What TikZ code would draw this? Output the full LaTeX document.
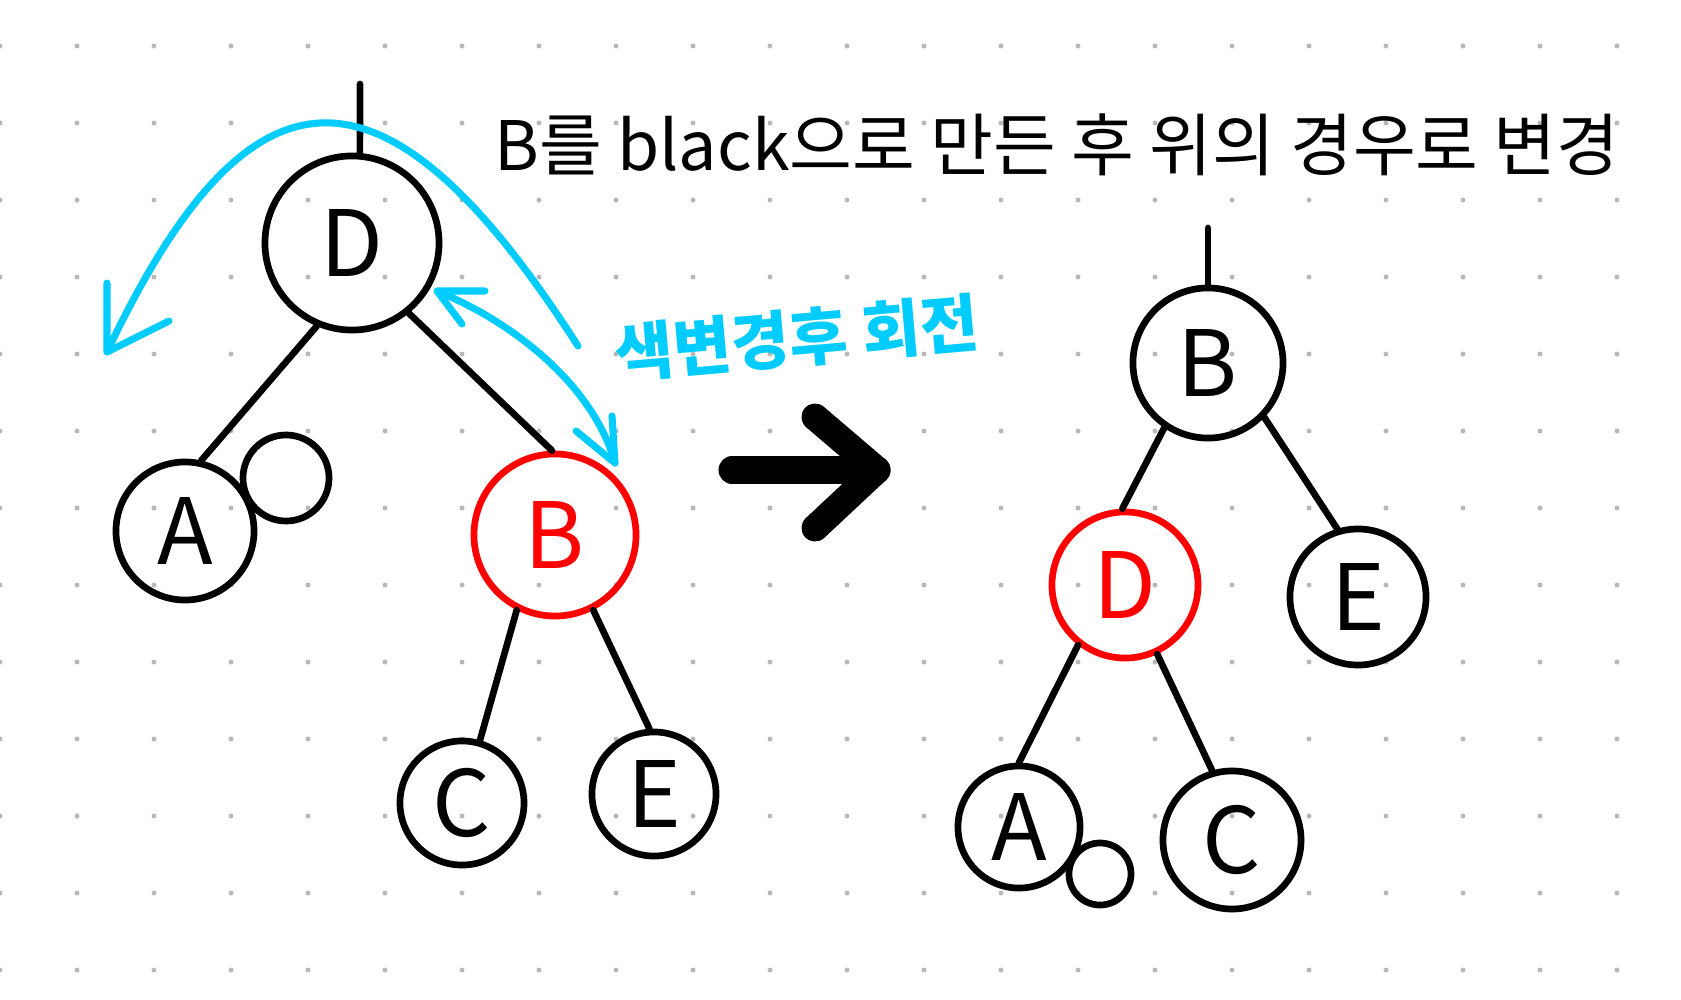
\documentclass[tikz,border=0pt]{standalone}
\usepackage{fontspec}
\setmainfont{Noto Sans CJK KR}
\definecolor{note-cyan}{HTML}{00CCFF}
\definecolor{note-red}{HTML}{FF0000}
\definecolor{note-dot}{HTML}{B8B8B8}
\usetikzlibrary{calc}

\begin{document}
\begin{tikzpicture}[
  x=0.01cm, y=-0.01cm,
  every node/.style={align=center},
  nd/.style={circle, draw=black, line width=1.9pt, inner sep=0pt, font=\fontsize{26}{26}\selectfont},
  rednd/.style={nd, draw=note-red, text=note-red},
  edge/.style={line width=1.9pt, line cap=round},
  bluearrow/.style={draw=note-cyan, line width=2pt, line cap=round, line join=round},
  bigarrow/.style={line width=0.27cm, line cap=round, line join=round},
  note/.style={font=\fontsize{19.4}{21}\selectfont}
]
  \useasboundingbox (0,0) rectangle (1681,1000);
  % dotted paper
  \foreach \i in {0,...,21} {
    \foreach \j in {0,...,12} {
      \fill[note-dot] (\i*77, 46+\j*77) circle[radius=0.025cm];
    }
  }

  \node[note] (title) at (1057,145) {B를 black으로 만든 후 위의 경우로 변경};
  \node[note, font=\fontsize{18}{20}\selectfont\bfseries, text=note-cyan, rotate=5] (rot) at (797,338) {색변경후 회전};

  % before
  \coordinate (lTop) at (360,84);
  \node[nd, minimum size=1.74cm] (lD) at (352,243) {D};
  \node[nd, minimum size=1.38cm] (lA) at (185,531) {A};
  \node[nd, minimum size=0.86cm] (lNil) at (286,478) {};
  \node[rednd, minimum size=1.62cm] (lB) at (555,535) {B};
  \node[nd, minimum size=1.24cm] (lC) at (462,803) {C};
  \node[nd, minimum size=1.24cm] (lE) at (654,794) {E};

  \draw[edge] (lTop) -- (lD.85);
  \draw[edge] (lD.-113) -- (lA.77);
  \draw[edge] (lD.-51) -- (lB.92);
  \draw[edge] (lB.-117) -- (lC.74);
  \draw[edge] (lB.-63) -- (lE.94);

  % after
  \coordinate (rTop) at (1208,228);
  \node[nd, minimum size=1.50cm] (rB) at (1208,363) {B};
  \node[rednd, minimum size=1.46cm] (rD) at (1125,585) {D};
  \node[nd, minimum size=1.36cm] (rE) at (1358,597) {E};
  \node[nd, minimum size=1.22cm] (rA) at (1019,827) {A};
  \node[nd, minimum size=0.62cm] (rNil) at (1100,874) {};
  \node[nd, minimum size=1.38cm] (rC) at (1232,840) {C};

  \draw[edge] (rTop) -- (rB.90);
  \draw[edge] (rB.-124) -- (rD.92);
  \draw[edge] (rB.-44) -- (rE.107);
  \draw[edge] (rD.-128) -- (rA.90);
  \draw[edge] (rD.-65) -- (rC.106);

  % rotation hints
  \coordinate (bigS) at (578,346);
  \coordinate (bigT) at (107,352);
  \coordinate (bigU) at (107,283);
  \coordinate (bigR) at (169,321);
  \draw[bluearrow] (bigS) .. controls (385,45) and (250,50) .. (bigT);
  \draw[bluearrow] (bigU) -- (bigT) -- (bigR);

  \coordinate (swU) at (437,291);
  \coordinate (swD) at (615,463);
  \draw[bluearrow] (swU) .. controls (520,325) and (595,390) .. (swD);
  \draw[bluearrow] (485,291) -- (swU) -- (462,324);
  \draw[bluearrow] (612,416) -- (swD) -- (576,431);

  % transform arrow
  \coordinate (arrS) at (732,470);
  \coordinate (arrT) at (877,470);
  \draw[bigarrow] (arrS) -- (arrT);
  \draw[bigarrow] (815,417) -- (arrT) -- (815,528);
\end{tikzpicture}
\end{document}
